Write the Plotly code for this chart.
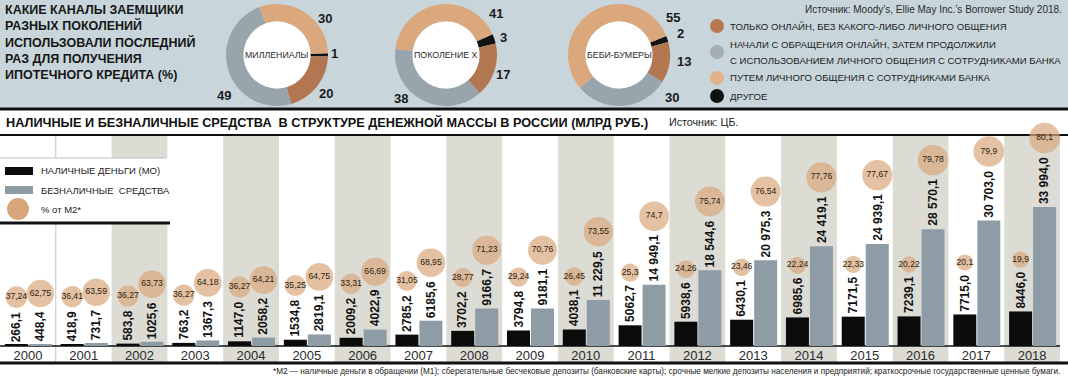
import plotly.graph_objects as go

W, H = 1068, 378

# ---------------- DATA ----------------
# Survey: which channels borrowers of different generations used (%)
generations = ["МИЛЛЕНИАЛЫ", "ПОКОЛЕНИЕ X", "БЕБИ-БУМЕРЫ"]
channel_keys = ["other", "online", "mixed", "personal"]
millennials_pct = [1, 20, 49, 30]
genx_pct = [3, 17, 38, 41]
boomers_pct = [2, 13, 30, 55]

legend_keys = ["online", "mixed", "personal", "other"]
legend_labels = [
    "ТОЛЬКО ОНЛАЙН, БЕЗ КАКОГО-ЛИБО ЛИЧНОГО ОБЩЕНИЯ",
    "НАЧАЛИ С ОБРАЩЕНИЯ ОНЛАЙН, ЗАТЕМ ПРОДОЛЖИЛИ<br>С ИСПОЛЬЗОВАНИЕМ ЛИЧНОГО ОБЩЕНИЯ С СОТРУДНИКАМИ БАНКА",
    "ПУТЕМ ЛИЧНОГО ОБЩЕНИЯ С СОТРУДНИКАМИ БАНКА",
    "ДРУГОЕ",
]

# Money supply structure in Russia (bn RUB) and share of M2 (%)
years = [2000, 2001, 2002, 2003, 2004, 2005, 2006, 2007, 2008, 2009,
         2010, 2011, 2012, 2013, 2014, 2015, 2016, 2017, 2018]
cash_m0 = [266.1, 418.9, 583.8, 763.2, 1147.0, 1534.8, 2009.2, 2785.2, 3702.2, 3794.8,
           4038.1, 5062.7, 5938.6, 6430.1, 6985.6, 7171.5, 7239.1, 7715.0, 8446.0]
noncash = [448.4, 731.7, 1025.6, 1367.3, 2058.2, 2819.1, 4022.9, 6185.6, 9166.7, 9181.1,
           11229.5, 14949.1, 18544.6, 20975.3, 24419.1, 24939.1, 28570.1, 30703.0, 33994.0]
cash_share = [37.24, 36.41, 36.27, 36.27, 36.27, 35.25, 33.31, 31.05, 28.77, 29.24,
              26.45, 25.3, 24.26, 23.46, 22.24, 22.33, 20.22, 20.1, 19.9]
noncash_share = [62.75, 63.59, 63.73, 64.18, 64.21, 64.75, 66.69, 68.95, 71.23, 70.76,
                 73.55, 74.7, 75.74, 76.54, 77.76, 77.67, 79.78, 79.9, 80.1]

# ---------------- STYLE ----------------
SANS = "Liberation Sans, Arial, sans-serif"
COL = {"other": "#121212", "online": "#b27650", "mixed": "#98a5ad", "personal": "#dba87e"}
LEG_COL = {"other": "#121212", "online": "#b5784f", "mixed": "#a3adb3", "personal": "#e2b28a"}
TOP_BG = "#c8d6dc"
BAND = "#dcdcd5"
CASH_COL = "#0b0b0b"
NONCASH_COL = "#8e9ca6"
CIRCLE_COL = "#d8a67b"


def px(x):
    return x / W


def py(y):
    return 1 - y / H


def fmt_val(v):
    s = f"{v:.1f}"
    ip, dp = s.split(".")
    if len(ip) > 4:
        ip = ip[:-3] + " " + ip[-3:]
    return ip + "," + dp


def fmt_pct(v):
    return f"{v:g}".replace(".", ",")


def note(x, y, text, size, color="#222", xanchor="center", bold=False, align="center"):
    return dict(xref="paper", yref="paper", x=px(x), y=py(y), xanchor=xanchor, yanchor="middle",
                align=align, showarrow=False, text=f"<b>{text}</b>" if bold else text,
                font=dict(family=SANS, size=size, color=color))


fig = go.Figure()
shapes = []
ann = []

# ---------------- TOP PANEL ----------------
shapes.append(dict(type="rect", xref="paper", yref="paper", x0=0, x1=1, y0=py(108), y1=1,
                   fillcolor=TOP_BG, line=dict(width=0), layer="below"))
shapes.append(dict(type="line", xref="paper", yref="paper", x0=0, x1=1, y0=py(109), y1=py(109),
                   line=dict(color="#111", width=3), layer="below"))

ann.append(dict(xref="paper", yref="paper", x=px(3), y=py(1), xanchor="left", yanchor="top",
                align="left", showarrow=False,
                text="<b>КАКИЕ КАНАЛЫ ЗАЕМЩИКИ<br>РАЗНЫХ ПОКОЛЕНИЙ<br>ИСПОЛЬЗОВАЛИ ПОСЛЕДНИЙ<br>"
                     "РАЗ ДЛЯ ПОЛУЧЕНИЯ<br>ИПОТЕЧНОГО КРЕДИТА (%)</b>",
                font=dict(family=SANS, size=12.5, color="#161616")))

donut_sets = [millennials_pct, genx_pct, boomers_pct]
donut_cx = [277, 446, 619]
donut_rot = [88, 66, 68]
CY, R, HOLE = 55, 51, 0.66
# pixel positions of the value labels around each ring (order: other, online, mixed, personal)
value_label_pos = [
    [(334, 53), (326, 94), (224, 95), (325, 18)],
    [(503, 37), (503, 74), (401, 98), (496, 14)],
    [(680, 33), (684, 61), (672, 97), (673, 17)],
]
for g, vals, cx, rot, lpos in zip(generations, donut_sets, donut_cx, donut_rot, value_label_pos):
    shapes.append(dict(type="circle", xref="paper", yref="paper",
                       x0=px(cx - R * HOLE), x1=px(cx + R * HOLE),
                       y0=py(CY + R * HOLE), y1=py(CY - R * HOLE),
                       fillcolor="white", line=dict(width=0), layer="below"))
    fig.add_trace(go.Pie(values=vals, labels=channel_keys, sort=False, direction="clockwise",
                         rotation=rot, hole=HOLE, textinfo="none", hoverinfo="skip",
                         marker=dict(colors=[COL[k] for k in channel_keys], line=dict(width=0)),
                         domain=dict(x=[px(cx - R), px(cx + R)], y=[py(CY + R), py(CY - R)]),
                         showlegend=False))
    ann.append(note(cx, CY, g, 8.8, "#2a2a2a"))
    for v, (lx, ly) in zip(vals, lpos):
        ann.append(note(lx, ly, str(v), 13, "#1a1a1a", bold=True))

ann.append(note(1064, 9, "Источник: Moody’s, Ellie May Inc.’s Borrower Study 2018.", 10, "#2a2a2a",
                xanchor="right"))
leg_y = [26, 52, 78, 96]
for k, lab, ly in zip(legend_keys, legend_labels, leg_y):
    shapes.append(dict(type="circle", xref="paper", yref="paper",
                       x0=px(710), x1=px(724), y0=py(ly + 7), y1=py(ly - 7),
                       fillcolor=LEG_COL[k], line=dict(width=0), layer="below"))
    lines = lab.split("<br>")
    for j, line in enumerate(lines):
        yy = ly + (j - (len(lines) - 1) / 2) * 16
        ann.append(note(728, yy, line, 9.6, "#222", xanchor="left", align="left"))

# ---------------- BAR CHART ----------------
BASE_PX, TOP_PX, BOT_PX = 346, 135, 362
AX_TOP_PX = 100                      # axis domain reaches above the panel so every circle stays in range
X_RIGHT = 1060
ppu = (BASE_PX - TOP_PX) / 51600     # pixels per bn RUB
YMAX = (BASE_PX - AX_TOP_PX) / ppu
n = len(years)
idx = list(range(n))

ann.append(note(4, 122, "НАЛИЧНЫЕ И БЕЗНАЛИЧНЫЕ СРЕДСТВА  В СТРУКТУРЕ ДЕНЕЖНОЙ МАССЫ В РОССИИ (МЛРД РУБ.)",
                12.7, "#111", xanchor="left", bold=True))
ann.append(note(667, 122, "Источник: ЦБ.", 10.7, "#222", xanchor="left"))
shapes.append(dict(type="line", xref="paper", yref="paper", x0=0, x1=1, y0=py(135), y1=py(135),
                   line=dict(color="#111", width=2), layer="below"))

for i in idx:
    if i % 2 == 0 and i > 0:
        shapes.append(dict(type="rect", xref="x", yref="paper", x0=i - 0.5, x1=i + 0.5,
                           y0=py(BOT_PX), y1=py(TOP_PX + 1), fillcolor=BAND,
                           line=dict(width=0), layer="below"))
shapes.append(dict(type="line", xref="x", yref="paper", x0=0.5, x1=0.5, y0=py(BOT_PX), y1=py(TOP_PX + 1),
                   line=dict(color="#c4c4c4", width=1), layer="below"))
# legend box
shapes.append(dict(type="rect", xref="paper", yref="paper", x0=0, x1=px(170), y0=py(222), y1=py(158),
                   fillcolor="white", line=dict(width=0), layer="below"))
shapes.append(dict(type="line", xref="paper", yref="paper", x0=0, x1=px(166), y0=py(158), y1=py(158),
                   line=dict(color="#bdbdbd", width=1), layer="below"))
shapes.append(dict(type="line", xref="paper", yref="paper", x0=0, x1=px(170), y0=py(223), y1=py(223),
                   line=dict(color="#111", width=3), layer="below"))
shapes.append(dict(type="rect", xref="paper", yref="paper", x0=px(5), x1=px(33), y0=py(175), y1=py(167),
                   fillcolor=CASH_COL, line=dict(width=0), layer="below"))
shapes.append(dict(type="rect", xref="paper", yref="paper", x0=px(5), x1=px(33), y0=py(194), y1=py(186),
                   fillcolor=NONCASH_COL, line=dict(width=0), layer="below"))
shapes.append(dict(type="circle", xref="paper", yref="paper", x0=px(7), x1=px(29), y0=py(220), y1=py(198),
                   fillcolor=CIRCLE_COL, line=dict(width=0), layer="below"))
for txt, ly in [("НАЛИЧНЫЕ ДЕНЬГИ (МО)", 171), ("БЕЗНАЛИЧНЫЕ  СРЕДСТВА", 190), ("% от М2*", 209)]:
    ann.append(note(39, ly, txt, 9.5, "#222", xanchor="left"))

# baseline & bottom rule
shapes.append(dict(type="line", xref="paper", yref="paper", x0=0, x1=px(X_RIGHT), y0=py(BASE_PX), y1=py(BASE_PX),
                   line=dict(color="#111", width=1.5), layer="below"))
shapes.append(dict(type="line", xref="paper", yref="paper", x0=0, x1=1, y0=py(BOT_PX + 1), y1=py(BOT_PX + 1),
                   line=dict(color="#111", width=3), layer="below"))

BW = 23 / (X_RIGHT / n)
OFF_CASH = -BW
OFF_NON = 1 / (X_RIGHT / n)
fig.add_trace(go.Bar(x=idx, y=cash_m0, width=BW, offset=OFF_CASH, marker=dict(color=CASH_COL, line=dict(width=0)),
                     hoverinfo="skip", showlegend=False))
fig.add_trace(go.Bar(x=idx, y=noncash, width=BW, offset=OFF_NON, marker=dict(color=NONCASH_COL, line=dict(width=0)),
                     hoverinfo="skip", showlegend=False))

LFS = 12


def label_len(s):
    return sum(0.556 * LFS if ch.isdigit() else 0.278 * LFS for ch in s)


def diam(p):
    return 2 + 3.2 * p ** 0.5


for vals, shares, off in [(cash_m0, cash_share, OFF_CASH), (noncash, noncash_share, OFF_NON)]:
    cxs, cys, sizes, texts = [], [], [], []
    for i, v, s in zip(idx, vals, shares):
        lab = fmt_val(v)
        xc = i + off + BW / 2
        ann.append(dict(xref="x", yref="y", x=xc, y=v + 1 / ppu, xanchor="center", yanchor="bottom",
                        textangle=-90, showarrow=False, text=f"<b>{lab}</b>",
                        font=dict(family=SANS, size=LFS, color="#111")))
        d = diam(s)
        ypx = v * ppu + 1 + 4 + label_len(lab) + 2 + d / 2
        cxs.append(xc)
        cys.append(ypx / ppu)
        sizes.append(d)
        texts.append(fmt_pct(s))
    fig.add_trace(go.Scatter(x=cxs, y=cys, mode="markers+text", text=texts, textposition="middle center",
                             marker=dict(size=sizes, color=CIRCLE_COL, line=dict(width=0)),
                             textfont=dict(family=SANS, size=8.6, color="#2b1e12"),
                             cliponaxis=False, hoverinfo="skip", showlegend=False))

ann.append(note(1062, 371,
                "*М2 — наличные деньги в обращении (М1); сберегательные бесчековые депозиты (банковские карты); "
                "срочные мелкие депозиты населения и предприятий; краткосрочные государственные ценные бумаги.",
                8.2, "#222", xanchor="right"))

fig.update_layout(
    width=W, height=H, margin=dict(l=0, r=0, t=0, b=0),
    paper_bgcolor="white", plot_bgcolor="rgba(0,0,0,0)",
    barmode="overlay", showlegend=False,
    xaxis=dict(domain=[0, X_RIGHT / W], range=[-0.5, n - 0.5], tickvals=idx, ticktext=[str(y) for y in years],
               tickfont=dict(family=SANS, size=13, color="#2a2a2a"), ticks="", showgrid=False,
               zeroline=False, showline=False, fixedrange=True),
    yaxis=dict(domain=[py(BASE_PX), py(AX_TOP_PX)], range=[0, YMAX], visible=False, fixedrange=True),
    shapes=shapes, annotations=ann,
)

fig.write_html("out.html", config={"displayModeBar": False},
               post_script="document.body.style.margin='0px';document.body.style.overflow='hidden';")
